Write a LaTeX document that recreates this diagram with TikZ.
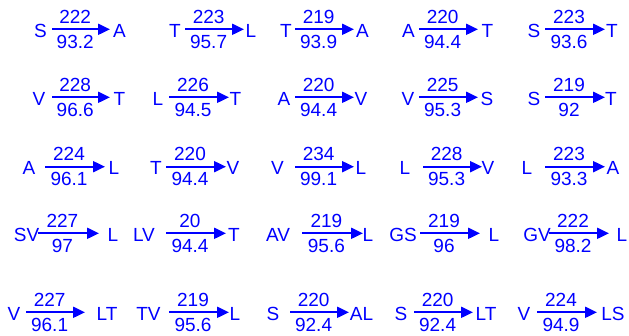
\documentclass[tikz,border=0pt]{standalone}
\usepackage{fontspec}
\setmainfont{Liberation Sans}
\usetikzlibrary{arrows.meta}
\tikzset{
  res/.style={font=\fontsize{19}{19}\selectfont,text=blue,inner sep=0pt,anchor=base},
  num/.style={font=\fontsize{19}{19}\selectfont,text=blue,inner sep=0pt,pos=.4},
  sub/.style={line width=2pt,blue,-{Triangle[length=12pt,width=11pt]}},
  up/.style={num,above=4.8pt},
  dn/.style={num,below=5pt}
}

\begin{document}
\begin{tikzpicture}[x=1pt,y=-1pt]
  \useasboundingbox (0,0) rectangle (629,335);
  % row 1
  \node[res] (l11) at (40.5,37.3) {S};
  \coordinate (a11) at (52,29.3); \coordinate (b11) at (110,29.3);
  \draw[sub] (a11) -- node[up] (u11) {222} node[dn] (d11) {93.2} (b11);
  \node[res] (r11) at (119.5,37.3) {A};

  \node[res] (l12) at (175,37.3) {T};
  \coordinate (a12) at (185,29.3); \coordinate (b12) at (244,29.3);
  \draw[sub] (a12) -- node[up] (u12) {223} node[dn] (d12) {95.7} (b12);
  \node[res] (r12) at (251,37.3) {L};

  \node[res] (l13) at (286,37.3) {T};
  \coordinate (a13) at (295,29.3); \coordinate (b13) at (354,29.3);
  \draw[sub] (a13) -- node[up] (u13) {219} node[dn] (d13) {93.9} (b13);
  \node[res] (r13) at (362.5,37.3) {A};

  \node[res] (l14) at (408.5,37.3) {A};
  \coordinate (a14) at (419,29.3); \coordinate (b14) at (478,29.3);
  \draw[sub] (a14) -- node[up] (u14) {220} node[dn] (d14) {94.4} (b14);
  \node[res] (r14) at (487.5,37.3) {T};

  \node[res] (l15) at (534,37.3) {S};
  \coordinate (a15) at (545,29.3); \coordinate (b15) at (605,29.3);
  \draw[sub] (a15) -- node[up] (u15) {223} node[dn] (d15) {93.6} (b15);
  \node[res] (r15) at (612,37.3) {T};

  % row 2
  \node[res] (l21) at (39,105.3) {V};
  \coordinate (a21) at (52,97.3); \coordinate (b21) at (110,97.3);
  \draw[sub] (a21) -- node[up] (u21) {228} node[dn] (d21) {96.6} (b21);
  \node[res] (r21) at (119.5,105.3) {T};

  \node[res] (l22) at (158,105.3) {L};
  \coordinate (a22) at (169,97.3); \coordinate (b22) at (229,97.3);
  \draw[sub] (a22) -- node[up] (u22) {226} node[dn] (d22) {94.5} (b22);
  \node[res] (r22) at (235.5,105.3) {T};

  \node[res] (l23) at (284,105.3) {A};
  \coordinate (a23) at (295,97.3); \coordinate (b23) at (354,97.3);
  \draw[sub] (a23) -- node[up] (u23) {220} node[dn] (d23) {94.4} (b23);
  \node[res] (r23) at (361,105.3) {V};

  \node[res] (l24) at (408,105.3) {V};
  \coordinate (a24) at (419,97.3); \coordinate (b24) at (478,97.3);
  \draw[sub] (a24) -- node[up] (u24) {225} node[dn] (d24) {95.3} (b24);
  \node[res] (r24) at (487,105.3) {S};

  \node[res] (l25) at (534,105.3) {S};
  \coordinate (a25) at (545,97.3); \coordinate (b25) at (605,97.3);
  \draw[sub] (a25) -- node[up] (u25) {219} node[dn] (d25) {92} (b25);
  \node[res] (r25) at (611,105.3) {T};

  % row 3
  \node[res] (l31) at (29,174.7) {A};
  \coordinate (a31) at (45,166.7); \coordinate (b31) at (105,166.7);
  \draw[sub] (a31) -- node[up] (u31) {224} node[dn] (d31) {96.1} (b31);
  \node[res] (r31) at (114,174.7) {L};

  \node[res] (l32) at (156,174.7) {T};
  \coordinate (a32) at (166,166.7); \coordinate (b32) at (226,166.7);
  \draw[sub] (a32) -- node[up] (u32) {220} node[dn] (d32) {94.4} (b32);
  \node[res] (r32) at (233,174.7) {V};

  \node[res] (l33) at (277.5,174.7) {V};
  \coordinate (a33) at (295,166.7); \coordinate (b33) at (354,166.7);
  \draw[sub] (a33) -- node[up] (u33) {234} node[dn] (d33) {99.1} (b33);
  \node[res] (r33) at (361,174.7) {L};

  \node[res] (l34) at (405,174.7) {L};
  \coordinate (a34) at (423,166.7); \coordinate (b34) at (482,166.7);
  \draw[sub] (a34) -- node[up] (u34) {228} node[dn] (d34) {95.3} (b34);
  \node[res] (r34) at (488,174.7) {V};

  \node[res] (l35) at (527,174.7) {L};
  \coordinate (a35) at (545,166.7); \coordinate (b35) at (605,166.7);
  \draw[sub] (a35) -- node[up] (u35) {223} node[dn] (d35) {93.3} (b35);
  \node[res] (r35) at (613,174.7) {A};

  % row 4
  \node[res] (l41) at (26.5,241.3) {SV};
  \coordinate (a41) at (38,233.3); \coordinate (b41) at (99,233.3);
  \draw[sub] (a41) -- node[up] (u41) {227} node[dn] (d41) {97} (b41);
  \node[res] (r41) at (113,241.3) {L};

  \node[res] (l42) at (144,241.3) {LV};
  \coordinate (a42) at (166,233.3); \coordinate (b42) at (226,233.3);
  \draw[sub] (a42) -- node[up] (u42) {20} node[dn] (d42) {94.4} (b42);
  \node[res] (r42) at (234,241.3) {T};

  \node[res] (l43) at (278,241.3) {AV};
  \coordinate (a43) at (302,233.3); \coordinate (b43) at (363,233.3);
  \draw[sub] (a43) -- node[up] (u43) {219} node[dn] (d43) {95.6} (b43);
  \node[res] (r43) at (368,241.3) {L};

  \node[res] (l44) at (403,241.3) {GS};
  \coordinate (a44) at (420,233.3); \coordinate (b44) at (480,233.3);
  \draw[sub] (a44) -- node[up] (u44) {219} node[dn] (d44) {96} (b44);
  \node[res] (r44) at (494,241.3) {L};

  \node[res] (l45) at (537,241.3) {GV};
  \coordinate (a45) at (549,233.3); \coordinate (b45) at (609,233.3);
  \draw[sub] (a45) -- node[up] (u45) {222} node[dn] (d45) {98.2} (b45);
  \node[res] (r45) at (622,241.3) {L};

  % row 5
  \node[res] (l51) at (14,320.3) {V};
  \coordinate (a51) at (26,312.3); \coordinate (b51) at (85,312.3);
  \draw[sub] (a51) -- node[up] (u51) {227} node[dn] (d51) {96.1} (b51);
  \node[res] (r51) at (107,320.3) {LT};

  \node[res] (l52) at (148.5,320.3) {TV};
  \coordinate (a52) at (169,312.3); \coordinate (b52) at (229,312.3);
  \draw[sub] (a52) -- node[up] (u52) {219} node[dn] (d52) {95.6} (b52);
  \node[res] (r52) at (235,320.3) {L};

  \node[res] (l53) at (273,320.3) {S};
  \coordinate (a53) at (290,312.3); \coordinate (b53) at (349,312.3);
  \draw[sub] (a53) -- node[up] (u53) {220} node[dn] (d53) {92.4} (b53);
  \node[res] (r53) at (361.5,320.3) {AL};

  \node[res] (l54) at (401,320.3) {S};
  \coordinate (a54) at (414,312.3); \coordinate (b54) at (473,312.3);
  \draw[sub] (a54) -- node[up] (u54) {220} node[dn] (d54) {92.4} (b54);
  \node[res] (r54) at (486,320.3) {LT};

  \node[res] (l55) at (524,320.3) {V};
  \coordinate (a55) at (537,312.3); \coordinate (b55) at (597,312.3);
  \draw[sub] (a55) -- node[up] (u55) {224} node[dn] (d55) {94.9} (b55);
  \node[res] (r55) at (613,320.3) {LS};
\end{tikzpicture}
\end{document}
